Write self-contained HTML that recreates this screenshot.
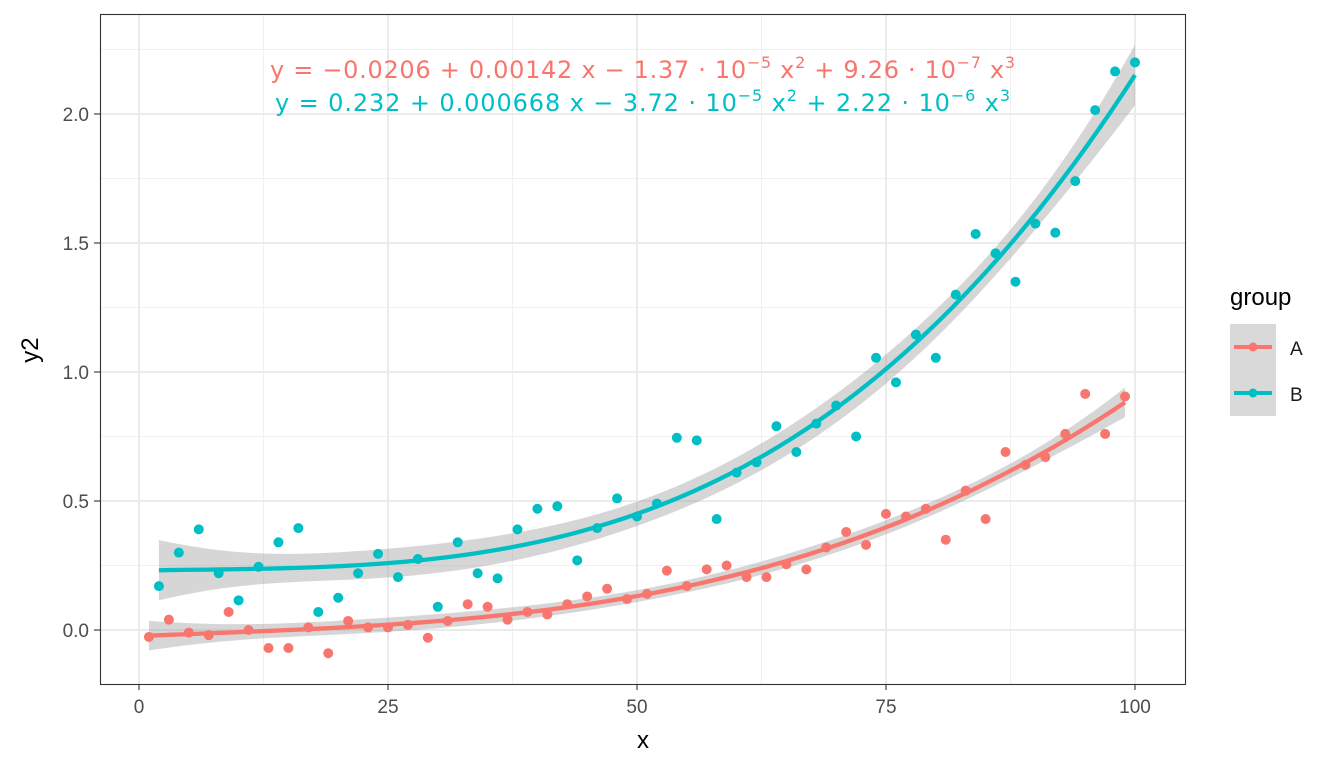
<!DOCTYPE html>
<html><head><meta charset="utf-8"><style>
body{margin:0;background:#fff;}
svg{display:block;font-family:"Liberation Sans","DejaVu Sans",sans-serif;}
.eq{font-family:"DejaVu Sans","Liberation Sans",sans-serif;}
</style></head><body>
<svg id="chart" width="1344" height="768" viewBox="0 0 1344 768">
<rect x="0" y="0" width="1344" height="768" fill="#fff"/>
<g id="grid"></g>
<g id="bands"></g>
<g id="points"></g>
<g id="lines"></g>
<rect x="100.5" y="14.5" width="1085" height="670" fill="none" stroke="#333" stroke-width="1.1"/>
<g id="axes"></g>
<text class="eq" x="270" y="78" textLength="745" lengthAdjust="spacing" font-size="24" fill="#F8766D">y = −0.0206 + 0.00142 x − 1.37 · 10<tspan dy="-10" font-size="16">−5</tspan><tspan dy="10"> x</tspan><tspan dy="-10" font-size="16">2</tspan><tspan dy="10"> + 9.26 · 10</tspan><tspan dy="-10" font-size="16">−7</tspan><tspan dy="10"> x</tspan><tspan dy="-10" font-size="16">3</tspan></text>
<text class="eq" x="275" y="111" textLength="735" lengthAdjust="spacing" font-size="24" fill="#00BFC4">y = 0.232 + 0.000668 x − 3.72 · 10<tspan dy="-10" font-size="16">−5</tspan><tspan dy="10"> x</tspan><tspan dy="-10" font-size="16">2</tspan><tspan dy="10"> + 2.22 · 10</tspan><tspan dy="-10" font-size="16">−6</tspan><tspan dy="10"> x</tspan><tspan dy="-10" font-size="16">3</tspan></text>
<text x="643" y="748" text-anchor="middle" font-size="24" fill="#000">x</text>
<text x="38" y="350" text-anchor="middle" font-size="24" fill="#000" transform="rotate(-90 38 350)">y2</text>
<g>
<text x="1230" y="305" font-size="24" fill="#000">group</text>
<rect x="1230" y="324" width="46" height="92" fill="#d9d9d9"/>
<line x1="1234" y1="347" x2="1272" y2="347" stroke="#F8766D" stroke-width="4"/>
<circle cx="1253" cy="347" r="4.5" fill="#F8766D"/>
<line x1="1234" y1="393" x2="1272" y2="393" stroke="#00BFC4" stroke-width="4"/>
<circle cx="1253" cy="393" r="4.5" fill="#00BFC4"/>
<text x="1290" y="355" font-size="19" fill="#1a1a1a">A</text>
<text x="1290" y="401" font-size="19" fill="#1a1a1a">B</text>
</g>
</svg>
<script>
const xTicks=[0,25,50,75,100];
const yTicks=[0,0.5,1,1.5,2];
const yTickLabels=["0.0","0.5","1.0","1.5","2.0"];
const xA=[1,3,5,7,9,11,13,15,17,19,21,23,25,27,29,31,33,35,37,39,41,43,45,47,49,51,53,55,57,59,61,63,65,67,69,71,73,75,77,79,81,83,85,87,89,91,93,95,97,99];
const yA=[-0.027,0.04,-0.01,-0.02,0.07,0,-0.07,-0.07,0.01,-0.09,0.035,0.01,0.01,0.02,-0.03,0.035,0.1,0.09,0.04,0.07,0.06,0.1,0.13,0.16,0.12,0.14,0.23,0.17,0.235,0.25,0.205,0.205,0.255,0.235,0.32,0.38,0.33,0.45,0.44,0.47,0.35,0.54,0.43,0.69,0.64,0.67,0.76,0.915,0.76,0.905];
const xB=[2,4,6,8,10,12,14,16,18,20,22,24,26,28,30,32,34,36,38,40,42,44,46,48,50,52,54,56,58,60,62,64,66,68,70,72,74,76,78,80,82,84,86,88,90,92,94,96,98,100];
const yB=[0.17,0.3,0.39,0.22,0.115,0.245,0.34,0.395,0.07,0.125,0.22,0.295,0.205,0.275,0.09,0.34,0.22,0.2,0.39,0.47,0.48,0.27,0.395,0.51,0.44,0.49,0.745,0.735,0.43,0.61,0.65,0.79,0.69,0.8,0.87,0.75,1.055,0.96,1.145,1.055,1.3,1.535,1.46,1.35,1.575,1.54,1.74,2.015,2.165,2.2];
const NS="http://www.w3.org/2000/svg";
const sx=v=>139+v*9.96, sy=v=>630-v*258;
function mk(tag,attrs,parent){const e=document.createElementNS(NS,tag);for(const k in attrs)e.setAttribute(k,attrs[k]);parent.appendChild(e);return e;}
const grid=document.getElementById('grid'),axes=document.getElementById('axes');
[-12.5,...xTicks.map(t=>t+12.5)].forEach(t=>{if(sx(t)>100&&sx(t)<1185){const l=mk('line',{x1:sx(t),x2:sx(t),y1:14,y2:684,stroke:'#f0f0f0','stroke-width':1},grid);}});
[-0.25,...yTicks.map(t=>t+0.25)].forEach(t=>{if(sy(t)>14&&sy(t)<684){const l=mk('line',{x1:100,x2:1185,y1:sy(t),y2:sy(t),stroke:'#f0f0f0','stroke-width':1},grid);}});
xTicks.forEach(t=>{const l=mk('line',{x1:sx(t),x2:sx(t),y1:14,y2:684,stroke:'#ebebeb','stroke-width':2},grid);
mk('line',{x1:sx(t),x2:sx(t),y1:684,y2:690,stroke:'#333','stroke-width':1.1},axes);
const tx=mk('text',{x:sx(t),y:713,'text-anchor':'middle','font-size':19,fill:'#4d4d4d'},axes);tx.textContent=t;});
yTicks.forEach((t,i)=>{const l=mk('line',{x1:100,x2:1185,y1:sy(t),y2:sy(t),stroke:'#ebebeb','stroke-width':2},grid);
mk('line',{x1:94,x2:100,y1:sy(t),y2:sy(t),stroke:'#333','stroke-width':1.1},axes);
const tx=mk('text',{x:89,y:sy(t)+7,'text-anchor':'end','font-size':19,fill:'#4d4d4d'},axes);tx.textContent=yTickLabels[i];});
function solve(A,b){const n=b.length;A=A.map((r,i)=>[...r,b[i]]);for(let i=0;i<n;i++){let p=i;for(let k=i+1;k<n;k++)if(Math.abs(A[k][i])>Math.abs(A[p][i]))p=k;[A[i],A[p]]=[A[p],A[i]];for(let k=0;k<n;k++)if(k!==i){const f=A[k][i]/A[i][i];for(let j=i;j<=n;j++)A[k][j]-=f*A[i][j];}}return A.map((r,i)=>r[n]/r[i]);}
function inv(M){return [0,1,2,3].map(c=>solve(M,M.map((_,i)=>i===c?1:0)));}
function fit(xs,ys,color,name){const X=xs.map(x=>[1,x,x*x,x*x*x]);const XtX=[0,1,2,3].map(i=>[0,1,2,3].map(j=>X.reduce((s,r)=>s+r[i]*r[j],0)));const Xty=[0,1,2,3].map(i=>X.reduce((s,r,k)=>s+r[i]*ys[k],0));const b=solve(XtX,Xty);const pred=r=>r.reduce((s,v,i)=>s+v*b[i],0);const rss=X.reduce((s,r,k)=>s+(ys[k]-pred(r))**2,0);const s2=rss/(xs.length-4);const Ci=inv(XtX);
const lo=Math.min(...xs),hi=Math.max(...xs);const up=[],dn=[],mid=[];for(let i=0;i<=80;i++){const x=lo+(hi-lo)*i/80;const r=[1,x,x*x,x*x*x];const y=pred(r);let q=0;for(let a=0;a<4;a++)for(let c=0;c<4;c++)q+=r[a]*Ci[c][a]*r[c];const se=Math.sqrt(s2*q)*2.013;mid.push([sx(x),sy(y)]);up.push([sx(x),sy(y+se)]);dn.push([sx(x),sy(y-se)]);}
const band=mk('path',{d:'M'+up.map(p=>p.join(',')).join('L')+'L'+dn.reverse().map(p=>p.join(',')).join('L')+'Z',fill:'#999','fill-opacity':0.4},document.getElementById('bands'));
const ln=mk('path',{d:'M'+mid.map(p=>p.join(',')).join('L'),fill:'none',stroke:color,'stroke-width':4.3},document.getElementById('lines'));
xs.forEach((x,k)=>{const c=mk('circle',{cx:sx(x),cy:sy(ys[k]),r:5,fill:color},document.getElementById('points'));});}
fit(xA,yA,'#F8766D','a');fit(xB,yB,'#00BFC4','b');
</script>
</body></html>
